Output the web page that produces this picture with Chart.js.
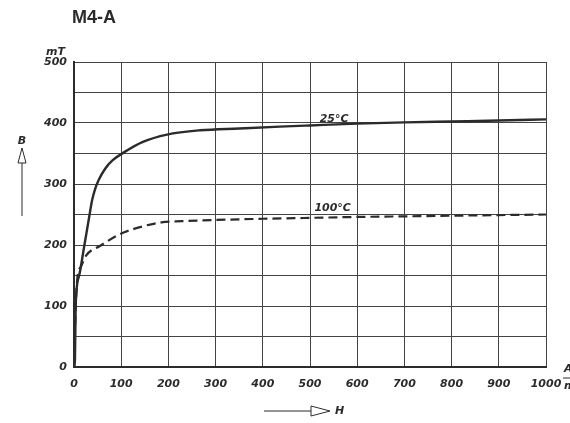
<!DOCTYPE html>
<html>
<head>
<meta charset="utf-8">
<title>M4-A</title>
<script src="https://cdn.jsdelivr.net/npm/chart.js@4/dist/chart.umd.min.js"></script>
<style>
  html, body { margin: 0; padding: 0; background: #fff; }
  #wrap { width: 570px; height: 423px; position: relative; }
</style>
</head>
<body>
<div id="wrap"><canvas id="bh"></canvas></div>
<script>
// H in A/m, B in mT
const h25 = [0, 2, 3.5, 11, 21, 32, 38, 44, 52, 66, 82, 104, 146, 197, 267, 350, 436, 500, 600, 700, 800, 900, 1000];
const b25 = [0, 12, 100, 150, 195, 245, 272, 290, 306, 325, 339, 351, 369, 381, 388, 391, 394, 396, 399, 401, 402.5, 404, 406];

const h100 = [0, 4, 7, 15, 26, 54, 98, 148, 185, 228, 300, 400, 500, 600, 700, 800, 900, 1000];
const b100 = [0, 105, 145, 165, 183, 198, 218, 231, 237, 239, 241, 243, 244.5, 246, 247, 248, 249, 250];

const curveLabels = [
    { text: '25°C', h: 551, b: 397, lift: 0 },
    { text: '100°C', h: 548, b: 245, lift: 4 }
];

const ink = '#2b2b2b';
const labelFont = 'italic bold 11px "DejaVu Sans", sans-serif';

const toPoints = (hs, bs) => hs.map((h, i) => ({ x: h, y: bs[i] }));

function openArrow(ctx, x1, y1, x2, y2, head, half) {
    // shaft then hollow triangle head pointing towards (x2, y2)
    const ang = Math.atan2(y2 - y1, x2 - x1);
    const bx = x2 - Math.cos(ang) * head;
    const by = y2 - Math.sin(ang) * head;
    const nx = -Math.sin(ang) * half;
    const ny = Math.cos(ang) * half;
    ctx.beginPath();
    ctx.moveTo(x1, y1);
    ctx.lineTo(bx, by);
    ctx.stroke();
    ctx.beginPath();
    ctx.moveTo(bx + nx, by + ny);
    ctx.lineTo(x2, y2);
    ctx.lineTo(bx - nx, by - ny);
    ctx.closePath();
    ctx.stroke();
}

const annotations = {
    id: 'annotations',
    afterDraw(chart) {
        const ctx = chart.ctx;
        const xs = chart.scales.x;
        const ys = chart.scales.y;
        ctx.save();
        ctx.fillStyle = ink;
        ctx.strokeStyle = ink;

        // title
        ctx.font = 'bold 18px "Liberation Sans", Arial, sans-serif';
        ctx.textAlign = 'left';
        ctx.textBaseline = 'middle';
        ctx.fillText('M4-A', 72, 18);

        // unit of B
        ctx.font = labelFont;
        ctx.textAlign = 'right';
        ctx.fillText('mT', 65, 52);

        // B axis arrow
        ctx.lineWidth = 1;
        openArrow(ctx, 22, 216, 22, 148, 15, 4);
        ctx.textAlign = 'center';
        ctx.fillText('B', 22, 141);

        // H axis arrow
        openArrow(ctx, 264, 411, 330, 411, 19, 5);
        ctx.textAlign = 'left';
        ctx.fillText('H', 335, 411);

        // unit of H (fraction A/m at the right edge)
        ctx.fillText('A', 564, 369);
        ctx.fillText('m', 564, 386);
        ctx.beginPath();
        ctx.moveTo(563, 378);
        ctx.lineTo(570, 378);
        ctx.stroke();

        // curve labels
        ctx.textAlign = 'center';
        ctx.textBaseline = 'bottom';
        curveLabels.forEach(l => {
            ctx.fillText(l.text, xs.getPixelForValue(l.h), ys.getPixelForValue(l.b) - l.lift);
        });
        ctx.restore();
    }
};

const tickFont = { family: '"DejaVu Sans", sans-serif', size: 11, style: 'italic', weight: 'bold' };

new Chart(document.getElementById('bh'), {
    type: 'line',
    data: {
        datasets: [{
            label: '25°C',
            data: toPoints(h25, b25),
            borderColor: ink,
            borderWidth: 2.4,
            pointRadius: 0,
            cubicInterpolationMode: 'monotone',
            fill: false
        }, {
            label: '100°C',
            data: toPoints(h100, b100),
            borderColor: ink,
            borderWidth: 2.2,
            borderDash: [9, 5],
            pointRadius: 0,
            cubicInterpolationMode: 'monotone',
            fill: false
        }]
    },
    options: {
        responsive: true,
        maintainAspectRatio: false,
        animation: false,
        events: [],
        layout: { padding: { top: 62, right: 24, left: 0, bottom: 0 } },
        plugins: {
            legend: { display: false },
            tooltip: { enabled: false }
        },
        scales: {
            x: {
                type: 'linear',
                min: 0,
                max: 1000,
                // fixed height; let the last label hang into the right margin
                afterFit: s => { s.height = 56; s.paddingRight = 0; s.paddingLeft = 0; },
                border: { display: true, color: ink, width: 2 },
                grid: { color: '#444', lineWidth: 1, drawTicks: false },
                ticks: {
                    stepSize: 100,
                    padding: 11,
                    color: ink,
                    font: tickFont,
                    maxRotation: 0,
                    callback: v => String(v)
                }
            },
            y: {
                min: 0,
                max: 500,
                afterFit: s => { s.width = 74; },
                border: { display: true, color: ink, width: 2 },
                grid: { color: '#444', lineWidth: 1, drawTicks: false },
                ticks: {
                    stepSize: 50,
                    padding: 7,
                    color: ink,
                    font: tickFont,
                    callback: v => (v % 100 === 0 ? String(v) : '')
                }
            }
        }
    },
    plugins: [annotations]
});
</script>
</body>
</html>
